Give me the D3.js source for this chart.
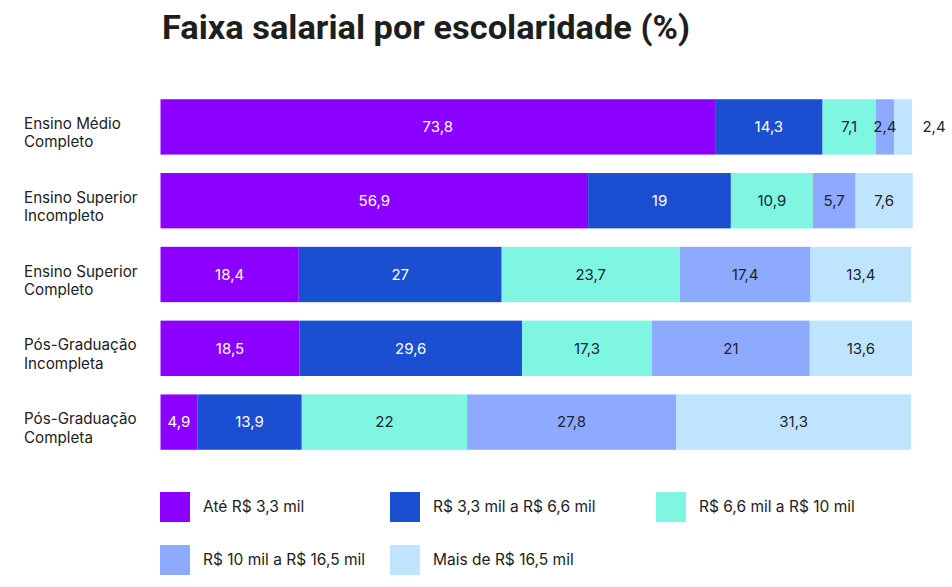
<!DOCTYPE html>
<html>
<head>
<meta charset="utf-8">
<script src="https://cdn.jsdelivr.net/npm/d3@7"></script>
<style>
  html, body { margin: 0; padding: 0; background: #fff; }
  svg { display: block; }
</style>
</head>
<body>
<script>
const categories = ["Ensino Médio Completo", "Ensino Superior Incompleto", "Ensino Superior Completo", "Pós-Graduação Incompleta", "Pós-Graduação Completa"];
const categoryLines = [["Ensino Médio", "Completo"], ["Ensino Superior", "Incompleto"], ["Ensino Superior", "Completo"], ["Pós-Graduação", "Incompleta"], ["Pós-Graduação", "Completa"]];
const seriesNames = ["Até R$ 3,3 mil", "R$ 3,3 mil a R$ 6,6 mil", "R$ 6,6 mil a R$ 10 mil", "R$ 10 mil a R$ 16,5 mil", "Mais de R$ 16,5 mil"];
const ate33 = [73.8, 56.9, 18.4, 18.5, 4.9];
const de33a66 = [14.3, 19, 27, 29.6, 13.9];
const de66a10 = [7.1, 10.9, 23.7, 17.3, 22];
const de10a165 = [2.4, 5.7, 17.4, 21, 27.8];
const mais165 = [2.4, 7.6, 13.4, 13.6, 31.3];
const seriesValues = [ate33, de33a66, de66a10, de10a165, mais165];
const colors = ["#8b00ff", "#1a4fd2", "#7ef6e2", "#8eaaff", "#bfe4fd"];
const textColors = ["#ffffff", "#ffffff", "#1b2433", "#1b2433", "#1b2433"];

const W = 952, H = 587;
const svg = d3.select("body").append("svg").attr("width", W).attr("height", H);

// Title
svg.append("text")
  .attr("x", 162).attr("y", 39)
  .attr("font-family", "Roboto, 'Liberation Sans', sans-serif")
  .attr("font-weight", 700).attr("font-size", 33.5)
  .attr("fill", "#1e1e1e")
  .attr("textLength", 528).attr("lengthAdjust", "spacingAndGlyphs")
  .text("Faixa salarial por escolaridade (%)");

const x = d3.scaleLinear().domain([0, 100]).range([160.5, 912]);
const y = d3.scaleBand().domain(categories).range([90, 459]).paddingInner(0.25).paddingOuter(0.125);

const rows = categories.map((c, i) => {
  let acc = 0;
  return seriesValues.map((vals, s) => {
    const seg = { cat: c, s, v: vals[i], x0: acc, x1: acc + vals[i] };
    acc += vals[i];
    return seg;
  });
});

const font = "Inter, 'Noto Sans', sans-serif";

const g = svg.append("g");
rows.forEach((segs, i) => {
  const rowG = g.append("g");
  rowG.selectAll("rect").data(segs).join("rect")
    .attr("x", d => x(d.x0))
    .attr("y", d => y(d.cat))
    .attr("width", d => x(d.x1) - x(d.x0))
    .attr("height", y.bandwidth())
    .attr("fill", d => colors[d.s]);
  rowG.selectAll("text").data(segs).join("text")
    .attr("x", d => {
      const w = x(d.x1) - x(d.x0);
      if (d.s === seriesValues.length - 1 && w < 22) return x(d.x1) + 22;
      return (x(d.x0) + x(d.x1)) / 2;
    })
    .attr("y", d => y(d.cat) + y.bandwidth() / 2)
    .attr("dy", "0.35em")
    .attr("text-anchor", "middle")
    .attr("font-family", font).attr("font-size", 15)
    .attr("fill", d => {
      const w = x(d.x1) - x(d.x0);
      if (d.s === seriesValues.length - 1 && w < 22) return "#1b2433";
      return textColors[d.s];
    })
    .text(d => String(d.v).replace(".", ","));
});

// Category labels
categories.forEach((c, i) => {
  const cy = y(c) + y.bandwidth() / 2;
  const t = svg.append("text")
    .attr("x", 24)
    .attr("font-family", font).attr("font-size", 15.2)
    .attr("fill", "#222");
  categoryLines[i].forEach((line, k) => {
    t.append("tspan").attr("x", 24).attr("y", cy + 2 + (k === 0 ? 0 : 18.5)).text(line);
  });
});

// Legend
const legendPos = [[160, 492], [390, 492], [656, 492], [160, 545], [390, 545]];
seriesNames.forEach((name, s) => {
  const [lx, ly] = legendPos[s];
  svg.append("rect").attr("x", lx).attr("y", ly).attr("width", 30).attr("height", 30).attr("fill", colors[s]);
  svg.append("text").attr("x", lx + 43).attr("y", ly + 15).attr("dy", "0.35em")
    .attr("font-family", font).attr("font-size", 15.5).attr("fill", "#222")
    .text(name);
});
</script>
</body>
</html>
